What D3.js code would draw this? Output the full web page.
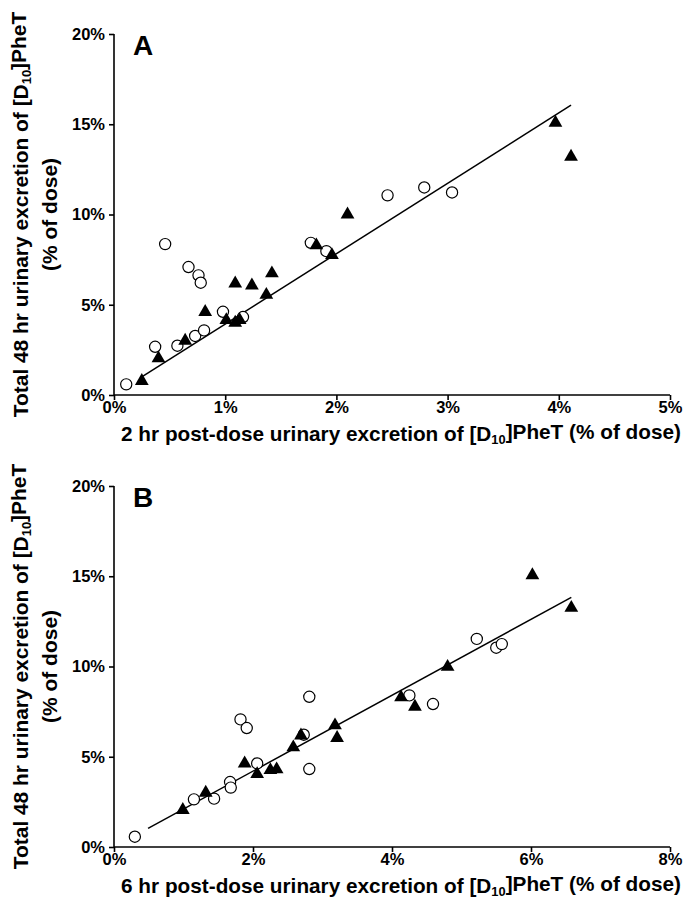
<!DOCTYPE html>
<html>
<head>
<meta charset="utf-8">
<script src="https://cdn.jsdelivr.net/npm/d3@7"></script>
<style>
  body { margin: 0; background: #fff; }
  svg { display: block; font-family: "Liberation Sans", Arial, sans-serif; }
</style>
</head>
<body>
<svg id="chart" width="687" height="905"></svg>
<script>
// panel A: 2 hr excretion vs total 48 hr (% of dose)
const aCircleX = [0.11, 0.37, 0.57, 0.73, 0.81, 0.46, 0.67, 0.76, 0.78, 0.98, 1.16, 1.77, 1.91, 2.46, 2.79, 3.04];
const aCircleY = [0.59, 2.67, 2.73, 3.27, 3.58, 8.36, 7.09, 6.63, 6.22, 4.61, 4.32, 8.43, 7.97, 11.06, 11.5, 11.22];
const aTriangleX = [0.25, 0.40, 0.64, 0.82, 1.01, 1.09, 1.13, 1.09, 1.24, 1.37, 1.42, 1.82, 1.96, 2.10, 3.97, 4.11];
const aTriangleY = [0.78, 2.03, 3.01, 4.60, 4.15, 4.00, 4.15, 6.18, 6.07, 5.55, 6.74, 8.29, 7.75, 10.0, 15.08, 13.2];
const aFitX = [0.25, 4.11];
const aFitY = [1.0, 16.06];
const aXTicks = [0, 1, 2, 3, 4, 5];

// panel B: 6 hr excretion vs total 48 hr (% of dose)
const bCircleX = [0.30, 1.15, 1.44, 1.67, 1.68, 1.82, 1.91, 2.06, 2.73, 2.81, 2.81, 4.25, 4.59, 5.22, 5.50, 5.58];
const bCircleY = [0.57, 2.64, 2.68, 3.60, 3.29, 7.07, 6.59, 4.63, 6.22, 8.32, 4.32, 8.40, 7.92, 11.53, 11.04, 11.24];
const bTriangleX = [0.99, 1.32, 1.88, 2.06, 2.25, 2.34, 2.58, 2.69, 3.18, 3.21, 4.13, 4.33, 4.80, 6.02, 6.58];
const bTriangleY = [2.05, 3.01, 4.63, 4.04, 4.26, 4.30, 5.52, 6.18, 6.74, 6.04, 8.29, 7.77, 9.98, 15.06, 13.25];
const bFitX = [0.49, 6.58];
const bFitY = [1.03, 13.83];
const bXTicks = [0, 2, 4, 6, 8];

const yTicks = [0, 5, 10, 15, 20];

const svg = d3.select("#chart");

// squeeze a text sideways so it spans the wanted width (the original font is narrow)
function squeezeTo(text, base, target) {
    const w = text.node().getBBox().width;
    text.attr("transform", `${base} scale(${(target / w).toFixed(3)},1)`);
}

function addSubLabel(g, pre, post) {
    g.append("tspan").text(pre);
    g.append("tspan").attr("font-size", "0.62em").attr("dy", "0.25em").text("10");
    g.append("tspan").attr("dy", "-0.25em").text(post);
}

function drawPanel(opts) {
    const left = 114, right = 670;
    const x = d3.scaleLinear().domain([0, d3.max(opts.xTicks)]).range([left, right]);
    const y = d3.scaleLinear().domain([0, 20]).range([opts.bottom, opts.top]);
    const g = svg.append("g");

    const xAxis = g.append("g")
        .attr("transform", `translate(0,${opts.bottom})`)
        .call(d3.axisBottom(x).tickValues(opts.xTicks).tickSize(5).tickPadding(1).tickFormat((d) => `${d}%`));
    const yAxis = g.append("g")
        .attr("transform", `translate(${left},0)`)
        .call(d3.axisLeft(y).tickValues(yTicks).tickSize(5).tickPadding(4).tickFormat((d) => `${d}%`));

    [xAxis, yAxis].forEach((ax) => {
        ax.select(".domain").attr("stroke", "#000").attr("stroke-width", 1.6);
        ax.selectAll(".tick line").attr("stroke", "#000").attr("stroke-width", 1.6);
        ax.selectAll(".tick text")
            .attr("fill", "#000")
            .attr("font-size", 16.5)
            .attr("font-weight", "bold")
            .attr("font-family", "'Liberation Sans', Arial, sans-serif");
    });
    xAxis.select(".domain").attr("d", `M${left},0H${right}`);
    yAxis.select(".domain").attr("d", `M0,${opts.bottom}V${opts.top}`);

    g.append("path")
        .datum(opts.fitX.map((v, i) => [v, opts.fitY[i]]))
        .attr("fill", "none")
        .attr("stroke", "#000")
        .attr("stroke-width", 1.5)
        .attr("d", d3.line().x((d) => x(d[0])).y((d) => y(d[1])));

    const circles = opts.circleX.map((v, i) => [v, opts.circleY[i]]);
    g.selectAll("circle.open")
        .data(circles)
        .enter()
        .append("circle")
        .attr("class", "open")
        .attr("cx", (d) => x(d[0]))
        .attr("cy", (d) => y(d[1]))
        .attr("r", 5.6)
        .attr("fill", "#fff")
        .attr("stroke", "#000")
        .attr("stroke-width", 1.2);

    const tri = d3.symbol().type(d3.symbolTriangle).size(82);
    const triangles = opts.triangleX.map((v, i) => [v, opts.triangleY[i]]);
    g.selectAll("path.tri")
        .data(triangles)
        .enter()
        .append("path")
        .attr("class", "tri")
        .attr("transform", (d) => `translate(${x(d[0])},${y(d[1])})`)
        .attr("d", tri)
        .attr("fill", "#000");

    g.append("text")
        .attr("x", 133)
        .attr("y", opts.top + 21)
        .attr("font-size", 28)
        .attr("font-weight", "bold")
        .text(opts.letter);

    const xLabel = g.append("text")
        .attr("text-anchor", "middle")
        .attr("font-size", 21)
        .attr("font-weight", "bold");
    addSubLabel(xLabel, `${opts.hours} hr post-dose urinary excretion of [D`, "]PheT (% of dose)");
    squeezeTo(xLabel, `translate(401,${opts.bottom + 46})`, 560);

    const midY = (opts.top + opts.bottom) / 2;
    const yLabel = g.append("text")
        .attr("text-anchor", "middle")
        .attr("font-size", 21)
        .attr("font-weight", "bold");
    addSubLabel(yLabel, "Total 48 hr urinary excretion of [D", "]PheT");
    squeezeTo(yLabel, `translate(28,${midY}) rotate(-90)`, 406);

    g.append("text")
        .attr("transform", `translate(57,${midY}) rotate(-90)`)
        .attr("text-anchor", "middle")
        .attr("font-size", 21)
        .attr("font-weight", "bold")
        .text("(% of dose)");
}

drawPanel({
    letter: "A", hours: 2, top: 34, bottom: 395, xTicks: aXTicks,
    circleX: aCircleX, circleY: aCircleY, triangleX: aTriangleX, triangleY: aTriangleY,
    fitX: aFitX, fitY: aFitY,
});
drawPanel({
    letter: "B", hours: 6, top: 486, bottom: 847, xTicks: bXTicks,
    circleX: bCircleX, circleY: bCircleY, triangleX: bTriangleX, triangleY: bTriangleY,
    fitX: bFitX, fitY: bFitY,
});
</script>
</body>
</html>
